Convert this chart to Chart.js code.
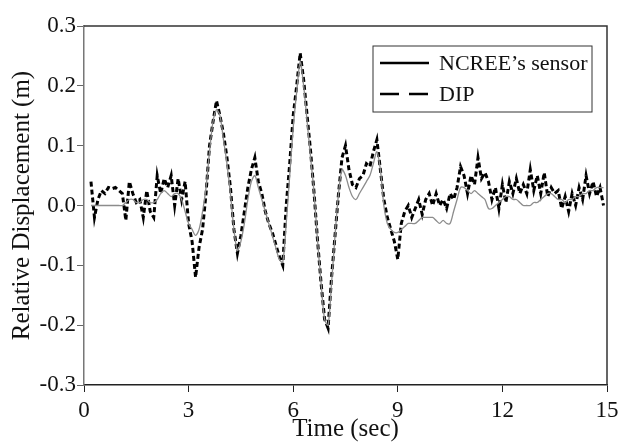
<!DOCTYPE html>
<html lang="en">
    <head>
        <meta charset="utf-8" />
        <title>Relative Displacement</title>
        <style>
            body { margin: 0; background: #fff; }
            #grafico { display: block; }
        </style>
    </head>
    <body>
        <canvas id="grafico" width="618" height="444"></canvas>
        <script src="https://cdn.jsdelivr.net/npm/chart.js@4.4.1/dist/chart.umd.min.js"></script>
        <script>
            // samples every 0.1 s, starting at 0.2 s
            var ncree = [
                0, 0, 0, 0, 0, 0, 0, 0,
                0, 0, 0.005, 0.01, 0.01, 0.005, 0.005, 0.01, 0.01, 0.005,
                0.005, 0.01, 0.02, 0.025, 0.02, 0.015, 0.02, 0.02, 0.01, -0.01,
                -0.03, -0.04, -0.05, -0.04, -0.01, 0.03, 0.09, 0.14, 0.16, 0.15,
                0.11, 0.07, 0.02, -0.04, -0.075, -0.06, -0.03, 0.01, 0.04, 0.05,
                0.03, 0.01, -0.01, -0.03, -0.05, -0.07, -0.09, -0.095, -0.03, 0.05,
                0.13, 0.19, 0.24, 0.2, 0.14, 0.08, 0.02, -0.06, -0.13, -0.19,
                -0.2, -0.13, -0.05, 0.02, 0.06, 0.05, 0.03, 0.015, 0.01, 0.02,
                0.03, 0.04, 0.05, 0.07, 0.09, 0.06, 0, -0.03, -0.04, -0.045,
                -0.045, -0.04, -0.035, -0.03, -0.03, -0.03, -0.025, -0.02, -0.02, -0.02,
                -0.02, -0.025, -0.03, -0.025, -0.03, -0.03, -0.01, 0.01, 0.03, 0.03,
                0.025, 0.02, 0.025, 0.02, 0.015, 0.01, -0.005, -0.005, 0, 0.005,
                0.01, 0.015, 0.015, 0.01, 0.01, 0.005, 0, 0, 0, 0.005,
                0.005, 0.01, 0.015, 0.02, 0.02, 0.015, 0.01, 0.01, 0.005, 0.01,
                0.01, 0.015, 0.015, 0.02, 0.02, 0.025, 0.025, 0.03, 0.03, 0.03
            ];
            var dip = [
                0.04, -0.02, 0.01, 0.025, 0.02, 0.03, 0.028, 0.03,
                0.025, 0.02, -0.025, 0.04, 0.02, 0.005, 0.01, -0.02, 0.025, -0.01,
                -0.02, 0.05, 0.02, 0.045, 0.03, 0.05, 0, 0.045, 0.01, 0.04,
                -0.03, -0.06, -0.12, -0.07, -0.04, 0.02, 0.1, 0.14, 0.175, 0.15,
                0.12, 0.08, 0.03, -0.04, -0.08, -0.05, -0.01, 0.03, 0.06, 0.08,
                0.04, 0.02, -0.01, -0.03, -0.045, -0.065, -0.085, -0.1, 0, 0.07,
                0.15, 0.2, 0.255, 0.21, 0.15, 0.09, 0.02, -0.06, -0.13, -0.19,
                -0.205, -0.12, -0.05, 0.02, 0.08, 0.1, 0.06, 0.035, 0.03, 0.045,
                0.05, 0.07, 0.065, 0.09, 0.11, 0.06, 0.01, -0.02, -0.04, -0.06,
                -0.09, -0.03, -0.01, 0, -0.02, -0.005, 0.01, -0.015, 0.01, 0.02,
                0, 0.02, 0, 0.01, -0.005, 0.02, 0.01, 0.03, 0.065, 0.05,
                0.02, 0.05, 0.035, 0.08, 0.045, 0.055, 0.04, 0.01, 0.03, -0.005,
                0.035, 0.005, 0.04, 0.02, 0.045, 0.02, 0.035, 0.02, 0.06, 0.025,
                0.05, 0.02, 0.055, 0.015, 0.03, 0.02, 0.025, -0.005, 0.015, -0.01,
                0.02, 0, 0.03, 0.01, 0.05, 0.02, 0.04, 0.015, 0.03, 0
            ];
            var tiempos = ncree.map((_, i) => +(0.2 + i * 0.1).toFixed(1));
            var xTicks = [0, 3, 6, 9, 12, 15];
            var yTicks = [-0.3, -0.2, -0.1, 0, 0.1, 0.2, 0.3];

            var serif = "'Liberation Serif', 'Times New Roman', serif";
            Chart.defaults.font.family = serif;
            Chart.defaults.color = "#111";

            // top and right edges of the box
            var marco = {
                id: "marco",
                afterDatasetsDraw(chart) {
                    var a = chart.chartArea, ctx = chart.ctx;
                    ctx.save();
                    ctx.strokeStyle = "#333";
                    ctx.lineWidth = 1.5;
                    ctx.beginPath();
                    ctx.moveTo(a.left, a.top);
                    ctx.lineTo(a.right, a.top);
                    ctx.lineTo(a.right, a.bottom);
                    ctx.stroke();
                    ctx.restore();
                }
            };

            // boxed legend inside the plot, top right
            var leyenda = {
                id: "leyenda",
                afterDraw(chart) {
                    var a = chart.chartArea, ctx = chart.ctx;
                    var x0 = a.right - 234, y0 = a.top + 20, w = 219, h = 66;
                    ctx.save();
                    ctx.fillStyle = "#fff";
                    ctx.fillRect(x0, y0, w, h);
                    ctx.strokeStyle = "#333";
                    ctx.lineWidth = 1;
                    ctx.strokeRect(x0, y0, w, h);
                    ctx.font = "22px " + serif;
                    ctx.textBaseline = "middle";
                    chart.data.datasets.forEach((ds, i) => {
                        var y = y0 + 17 + i * 31;
                        ctx.strokeStyle = "#000";
                        ctx.lineWidth = 2.5;
                        ctx.setLineDash(i == 0 ? [] : [19, 10]);
                        ctx.beginPath();
                        ctx.moveTo(x0 + 7, y);
                        ctx.lineTo(x0 + 56, y);
                        ctx.stroke();
                        ctx.setLineDash([]);
                        ctx.fillStyle = "#111";
                        ctx.fillText(ds.label, x0 + 66, y + 1);
                    });
                    ctx.restore();
                }
            };

            new Chart(document.getElementById("grafico").getContext("2d"), {
                type: "line",
                data: {
                    datasets: [
                        {
                            label: "NCREE\u2019s sensor",
                            data: tiempos.map((t, i) => ({ x: t, y: ncree[i] })),
                            borderColor: "#8c8c8c",
                            borderWidth: 1.3,
                            pointRadius: 0,
                            tension: 0.3
                        },
                        {
                            label: "DIP",
                            data: tiempos.map((t, i) => ({ x: t, y: dip[i] })),
                            borderColor: "#000",
                            borderWidth: 3,
                            borderDash: [5, 3],
                            pointRadius: 0,
                            tension: 0
                        }
                    ]
                },
                options: {
                    responsive: false,
                    animation: false,
                    layout: { padding: { top: 26, right: 11, left: 0, bottom: 0 } },
                    plugins: {
                        legend: { display: false },
                        tooltip: { enabled: false }
                    },
                    scales: {
                        x: {
                            type: "linear",
                            min: 0,
                            max: 15,
                            afterBuildTicks: (s) => { s.ticks = xTicks.map((v) => ({ value: v })); },
                            afterFit: (s) => { s.height = 59; s.paddingLeft = 0; s.paddingRight = 0; },
                            grid: { drawOnChartArea: false, drawTicks: true, tickLength: 7, color: "#222" },
                            border: { display: true, color: "#222", width: 1.5 },
                            ticks: { font: { size: 23 }, padding: 5, maxRotation: 0 },
                            title: { display: true, text: "Time (sec)", font: { size: 25 }, padding: { top: -6, bottom: 0 } }
                        },
                        y: {
                            min: -0.3,
                            max: 0.3,
                            afterBuildTicks: (s) => { s.ticks = yTicks.map((v) => ({ value: v })); },
                            afterFit: (s) => { s.width = 84; s.paddingTop = 0; s.paddingBottom = 0; },
                            grid: { drawOnChartArea: false, drawTicks: true, tickLength: 7, color: "#666" },
                            border: { display: true, color: "#777", width: 1.5 },
                            ticks: { font: { size: 23 }, padding: 1, callback: (v) => v.toFixed(1) },
                            title: { display: true, text: "Relative Displacement (m)", font: { size: 25 }, padding: { top: 7, bottom: 0 } }
                        }
                    }
                },
                plugins: [marco, leyenda]
            });
        </script>
    </body>
</html>
